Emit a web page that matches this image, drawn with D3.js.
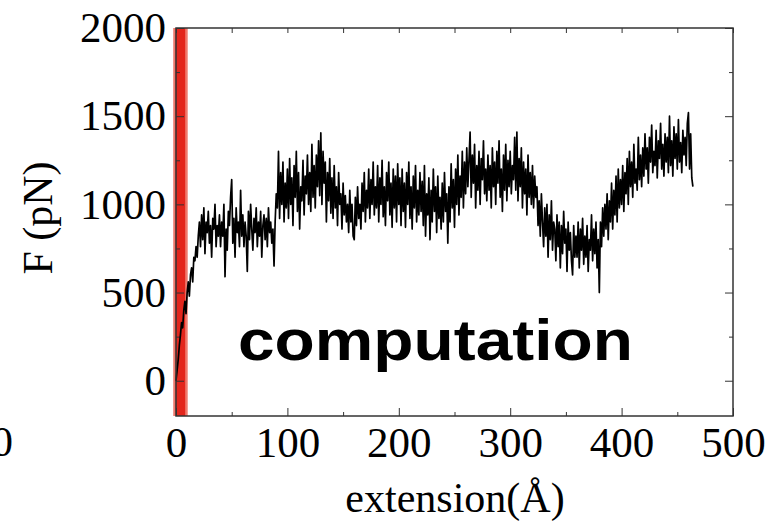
<!DOCTYPE html>
<html>
<head>
<meta charset="utf-8">
<script src="https://cdn.jsdelivr.net/npm/d3@7"></script>
<style>
  body { margin: 0; background: #fff; }
  svg { display: block; }
</style>
</head>
<body>
<svg id="chart" width="776" height="530"></svg>
<script>
// force trace, one reading per Å starting at 0 Å (20 readings a row)
const step = 1;
const force = [
  0, 60, 120, 200, 260, 330, 300, 400, 450, 380, 500, 560, 480, 600, 640, 560, 700, 680, 760, 700,
  820, 900, 760, 940, 800, 980, 720, 900, 840, 960, 780, 880, 700, 920, 860, 1000, 760, 880, 820, 940,
  760, 900, 820, 1000, 590, 860, 740, 960, 880, 1040, 1140, 780, 920, 700, 980, 840, 900, 760, 1080, 820,
  940, 760, 900, 820, 620, 960, 800, 1000, 860, 740, 920, 840, 980, 760, 900, 820, 960, 700, 880, 940,
  800, 920, 760, 980, 840, 900, 780, 860, 650, 900, 1060, 980, 1300, 920, 1180, 1000, 1240, 900, 1120, 980,
  1200, 920, 1260, 1000, 1150, 880, 1220, 1040, 1300, 960, 1180, 860, 1100, 1020, 1250, 940, 1160, 1060, 1280, 1000,
  1180, 960, 1340, 1040, 1220, 980, 1280, 1100, 1360, 1050, 1405, 1000, 1300, 1120, 1240, 900, 1180, 1020, 1260, 950,
  1150, 920, 1220, 980, 1100, 880, 1180, 1000, 1060, 860, 1120, 940, 1050, 900, 1000, 840, 1080, 900, 1000, 820,
  800, 1040, 880, 1100, 920, 1000, 860, 1120, 960, 1180, 900, 1080, 980, 1200, 920, 1140, 1000, 1240, 940, 1100,
  980, 1220, 900, 1150, 1000, 1250, 930, 1100, 880, 1180, 1020, 1240, 940, 1120, 870, 1200, 980, 1160, 900, 1230,
  1000, 1150, 880, 1200, 960, 1120, 870, 1180, 1000, 1240, 920, 1100, 860, 1160, 980, 1220, 900, 1080, 940, 1180,
  960, 1130, 880, 1220, 820, 1060, 940, 1150, 800, 1080, 900, 1200, 960, 1100, 840, 1160, 920, 1040, 860, 1120,
  900, 1180, 960, 1060, 780, 1100, 900, 1230, 980, 1140, 870, 1200, 1000, 1280, 940, 1160, 1040, 1300, 980, 1240,
  1060, 1320, 1100, 1250, 1410, 1040, 1280, 1120, 1340, 980, 1220, 1080, 1300, 1000, 1260, 1140, 1360, 1060, 1200, 1020,
  1280, 1080, 1220, 980, 1320, 1100, 1240, 1000, 1300, 1120, 1360, 1040, 1200, 960, 1280, 1080, 1340, 1020, 1250, 1100,
  1300, 1060, 1220, 1140, 1380, 1080, 1410, 1020, 1260, 1100, 1320, 980, 1240, 1060, 1200, 940, 1280, 1040, 1180, 1000,
  1220, 980, 1160, 1040, 1100, 880, 1020, 820, 1060, 900, 760, 980, 820, 1000, 700, 940, 800, 1020, 740, 900,
  860, 680, 940, 760, 900, 640, 880, 720, 960, 780, 860, 620, 900, 740, 840, 680, 600, 880, 700, 820,
  700, 900, 640, 860, 740, 920, 660, 820, 700, 880, 620, 800, 740, 940, 680, 860, 720, 900, 640, 800,
  500, 900, 760, 980, 820, 1000, 860, 1060, 800, 1020, 900, 1120, 860, 1080, 940, 1160, 900, 1200, 980, 1140,
  1000, 1220, 960, 1180, 1060, 1260, 1000, 1300, 1100, 1240, 1040, 1340, 1120, 1200, 1080, 1380, 1140, 1280, 1100, 1320,
  1160, 1400, 1200, 1320, 1120, 1380, 1240, 1450, 1180, 1300, 1220, 1420, 1150, 1360, 1260, 1460, 1200, 1340, 1160, 1400,
  1240, 1380, 1180, 1500, 1220, 1360, 1160, 1440, 1260, 1400, 1200, 1480, 1240, 1350, 1180, 1420, 1280, 1380, 1220, 1460,
  1520, 1200, 1400, 1150, 1100
];
const xTicks = [0, 100, 200, 300, 400, 500];
const yTicks = [0, 500, 1000, 1500, 2000];
const xMinor = [50, 150, 250, 350, 450];
const yMinor = [250, 750, 1250, 1750];
// red band marking the start of the pull (Å)
const band = [-2.5, 10.5];

const svg = d3.select("#chart"),
  margin = {left: 176, right: 43, top: 28, bottom: 114},
  W = 776 - margin.left - margin.right,
  H = 530 - margin.top - margin.bottom;

svg.append("rect").attr("width", 776).attr("height", 530).attr("fill", "#fff");

const x = d3.scaleLinear().domain([0, 500]).range([0, W]);
const y = d3.scaleLinear().domain([-200, 2000]).range([H, 0]);

const g = svg.append("g").attr("transform", `translate(${margin.left},${margin.top})`);

g.append("clipPath").attr("id", "clip")
  .append("rect").attr("width", W).attr("height", H).attr("x", -4);

const pts = force.map((f, i) => [i * step, f]);

// axes, ticks pointing inward
function styleAxis(sel) {
  sel.select(".domain").remove();
  sel.selectAll("line").attr("stroke", "#333").attr("stroke-width", 1);
  sel.selectAll("text")
    .attr("font-family", "'Liberation Serif', 'Times New Roman', serif")
    .attr("font-size", 43)
    .attr("fill", "#000");
}

// red band (under the ticks)
g.append("rect")
  .attr("x", x(band[0])).attr("y", 0)
  .attr("width", x(band[1]) - x(band[0])).attr("height", H)
  .attr("fill", "#f07a6e");
g.append("rect")
  .attr("x", x(band[0]) + 2.5).attr("y", 0)
  .attr("width", x(band[1]) - x(band[0]) - 5).attr("height", H)
  .attr("fill", "#e3261c");

g.append("g").attr("transform", `translate(0,${H})`)
  .call(d3.axisBottom(x).tickValues(xTicks).tickSize(-8).tickPadding(10).tickFormat(d3.format("d")))
  .call(styleAxis);
g.append("g").attr("transform", `translate(0,${H})`)
  .call(d3.axisBottom(x).tickValues(xMinor).tickSize(-4).tickFormat(""))
  .call(styleAxis);
g.append("g")
  .call(d3.axisTop(x).tickValues(xTicks.concat(xMinor)).tickSize(-5).tickFormat(""))
  .call(styleAxis);

g.append("g")
  .call(d3.axisLeft(y).tickValues(yTicks).tickSize(-8).tickPadding(10).tickFormat(d3.format("d")))
  .call(styleAxis);
g.append("g")
  .call(d3.axisLeft(y).tickValues(yMinor).tickSize(-4).tickFormat(""))
  .call(styleAxis);
g.append("g").attr("transform", `translate(${W},0)`)
  .call(d3.axisRight(y).tickValues(yTicks).tickSize(-8).tickFormat(""))
  .call(styleAxis);
g.append("g").attr("transform", `translate(${W},0)`)
  .call(d3.axisRight(y).tickValues(yMinor).tickSize(-4).tickFormat(""))
  .call(styleAxis);

// force trace
g.append("path")
  .datum(pts)
  .attr("clip-path", "url(#clip)")
  .attr("fill", "none")
  .attr("stroke", "#000")
  .attr("stroke-width", 1.7)
  .attr("stroke-linejoin", "round")
  .attr("d", d3.line().x(d => x(d[0])).y(d => y(d[1])));

// frame
g.append("rect").attr("width", W).attr("height", H)
  .attr("fill", "none").attr("stroke", "#333").attr("stroke-width", 1.5);

// overlay label
svg.append("text")
  .attr("x", 238).attr("y", 360)
  .attr("font-family", "'Liberation Sans', Arial, sans-serif")
  .attr("font-weight", "bold")
  .attr("font-size", 58)
  .attr("textLength", 395)
  .attr("lengthAdjust", "spacingAndGlyphs")
  .attr("fill", "#000")
  .text("computation");

// axis titles
svg.append("text")
  .attr("transform", "translate(52,218) rotate(-90)")
  .attr("text-anchor", "middle")
  .attr("font-family", "'Liberation Serif', 'Times New Roman', serif")
  .attr("font-size", 42)
  .attr("fill", "#000")
  .text("F (pN)");

svg.append("text")
  .attr("x", 455).attr("y", 512)
  .attr("text-anchor", "middle")
  .attr("font-family", "'Liberation Serif', 'Times New Roman', serif")
  .attr("font-size", 42)
  .attr("fill", "#000")
  .text("extension(Å)");

// cut-off tick label of the neighbouring panel
svg.append("text")
  .attr("x", 13).attr("y", 456)
  .attr("text-anchor", "end")
  .attr("font-family", "'Liberation Serif', 'Times New Roman', serif")
  .attr("font-size", 43)
  .attr("fill", "#000")
  .text("500");
</script>
</body>
</html>
